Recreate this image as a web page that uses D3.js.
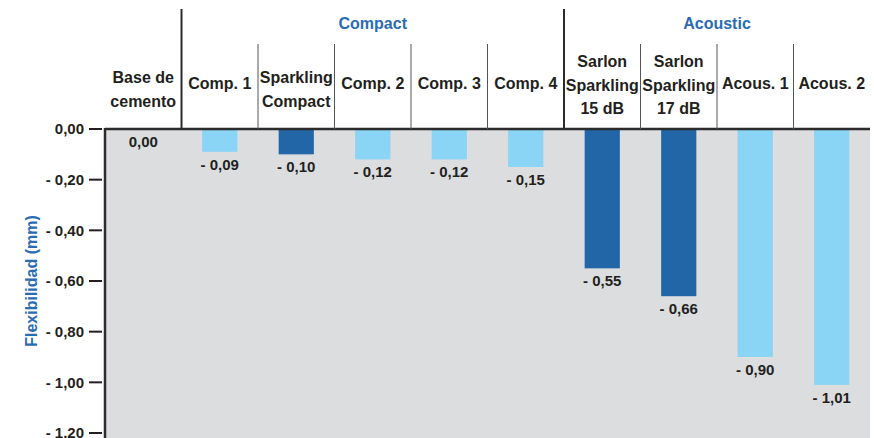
<!DOCTYPE html>
<html>
<head>
<meta charset="utf-8">
<title>flexibilidad</title>
<script src="https://d3js.org/d3.v7.min.js"></script>
<style>
  body { margin: 0; background: #fff; }
  svg { display: block; }
  text { fill: #231f20; }
  .head { font-family: "Liberation Sans", Arial, sans-serif; font-weight: bold; font-size: 16px; }
  .num { font-family: "Liberation Sans Narrow", "Liberation Sans", sans-serif; font-weight: bold; font-size: 15px; }
  .blue { fill: #2a6cb3; }
</style>
</head>
<body>
<svg id="chart" width="874" height="438"></svg>
<script>
// data
const categories = ["Base de\ncemento", "Comp. 1", "Sparkling\nCompact", "Comp. 2", "Comp. 3", "Comp. 4",
  "Sarlon\nSparkling\n15 dB", "Sarlon\nSparkling\n17 dB", "Acous. 1", "Acous. 2"];
const values = [0.00, -0.09, -0.10, -0.12, -0.12, -0.15, -0.55, -0.66, -0.90, -1.01];
const valueLabels = ["0,00", "- 0,09", "- 0,10", "- 0,12", "- 0,12", "- 0,15", "- 0,55", "- 0,66", "- 0,90", "- 1,01"];
const isSarlon = [false, false, true, false, false, false, true, true, false, false];
const groups = [{ name: "Compact", from: 1, to: 5 }, { name: "Acoustic", from: 6, to: 9 }];
const yTicks = [0, -0.2, -0.4, -0.6, -0.8, -1.0, -1.2];
const yTickLabels = ["0,00", "- 0,20", "- 0,40", "- 0,60", "- 0,80", "- 1,00", "- 1,20"];
const yTitle = "Flexibilidad (mm)";

const svg = d3.select("#chart");
const pLeft = 105, pRight = 870, pTop = 129, pBottom = 438;

const x = d3.scaleBand().domain(d3.range(categories.length)).range([pLeft, pRight]);
const y = d3.scaleLinear().domain([0, -1.2]).range([pTop, 433]);
const bw = x.bandwidth() * 0.46;

// plot background
svg.append("rect")
  .attr("x", pLeft).attr("y", pTop)
  .attr("width", pRight - pLeft).attr("height", pBottom - pTop)
  .attr("fill", "#dcdddf");

// bars
svg.selectAll("rect.bar").data(values).enter()
  .append("rect").attr("class", "bar")
  .attr("x", (d, i) => x(i) + x.bandwidth() / 2 - bw / 2)
  .attr("y", y(0))
  .attr("width", bw)
  .attr("height", d => y(d) - y(0))
  .attr("fill", (d, i) => isSarlon[i] ? "#2366a8" : "#8ad4f5");

// value labels
svg.selectAll("text.val").data(values).enter()
  .append("text").attr("class", "num")
  .attr("x", (d, i) => x(i) + x.bandwidth() / 2)
  .attr("y", d => y(d) + 18)
  .attr("text-anchor", "middle")
  .text((d, i) => valueLabels[i]);

// y axis
const yAxis = svg.append("g");
yAxis.selectAll("line").data(yTicks).enter()
  .append("line")
  .attr("x1", 89).attr("x2", 102)
  .attr("y1", d => y(d)).attr("y2", d => y(d))
  .attr("stroke", "#231f20").attr("stroke-width", 2);
yAxis.selectAll("text").data(yTicks).enter()
  .append("text").attr("class", "num")
  .attr("x", 84).attr("y", d => y(d))
  .attr("dy", "0.36em")
  .attr("text-anchor", "end")
  .text((d, i) => yTickLabels[i]);

svg.append("text").attr("class", "head blue")
  .attr("transform", "translate(37," + ((pTop + 433) / 2) + ") rotate(-90)")
  .attr("text-anchor", "middle")
  .text(yTitle);

// frame
svg.append("line").attr("x1", pLeft).attr("x2", pLeft).attr("y1", pTop - 1).attr("y2", pBottom)
  .attr("stroke", "#2b2b2b").attr("stroke-width", 2.5);
svg.append("line").attr("x1", pLeft).attr("x2", pRight).attr("y1", pTop).attr("y2", pTop)
  .attr("stroke", "#2b2b2b").attr("stroke-width", 2.5);

// header dividers
for (let i = 1; i < categories.length; i++) {
  const thick = groups.some(g => g.from === i);
  svg.append("line")
    .attr("x1", x(i)).attr("x2", x(i))
    .attr("y1", thick ? 9 : 44).attr("y2", pTop)
    .attr("stroke", thick ? "#2b2b2b" : "#555")
    .attr("stroke-width", thick ? 2 : 1);
}

// group names
groups.forEach(g => {
  svg.append("text").attr("class", "head blue")
    .attr("x", (x(g.from) + x(g.to) + x.bandwidth()) / 2)
    .attr("y", 29)
    .attr("text-anchor", "middle")
    .text(g.name);
});

// category labels
const firstLine = { 1: 88.5, 2: 83, 3: 67 };
categories.forEach((c, i) => {
  const lines = c.split("\n");
  const t = svg.append("text").attr("class", "head")
    .attr("text-anchor", "middle");
  lines.forEach((l, k) => {
    t.append("tspan")
      .attr("x", x(i) + x.bandwidth() / 2)
      .attr("y", firstLine[lines.length] + k * 23.5)
      .text(l);
  });
});
</script>
</body>
</html>
